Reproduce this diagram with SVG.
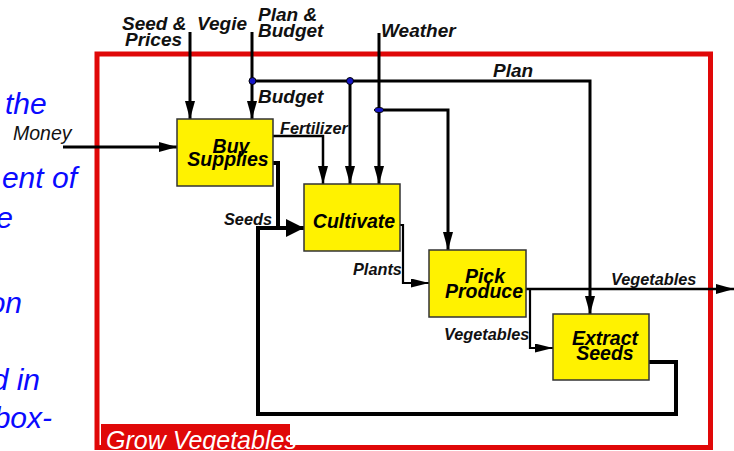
<svg xmlns="http://www.w3.org/2000/svg" width="734" height="451" viewBox="0 0 734 451">
<defs>
<style>
.box{fill:#fff200;stroke:#333;stroke-width:1.5}
.bt{font-family:"Liberation Sans",Arial,sans-serif;font-weight:bold;font-style:italic;font-size:19.5px;fill:#000;text-anchor:middle}
.lt{font-family:"Liberation Sans",Arial,sans-serif;font-weight:bold;font-style:italic;font-size:16.3px;fill:#111}
.tt{font-family:"Liberation Sans",Arial,sans-serif;font-weight:bold;font-style:italic;font-size:19px;fill:#111}
.bl{font-family:"Liberation Sans",Arial,sans-serif;font-style:italic;font-size:30px;fill:#0a0aff}
.ln{fill:none;stroke:#000;stroke-width:3;stroke-linejoin:miter}
.thin{stroke-width:2.2}
.thick{stroke-width:4}
.dot{fill:#1515c8;stroke:#000;stroke-width:1}
</style>
<marker id="ah" markerUnits="userSpaceOnUse" markerWidth="20" markerHeight="12" refX="18" refY="5" orient="auto">
<path d="M0,0 L18,5 L0,10 Z" fill="#000"/>
</marker>
<marker id="ahs" markerUnits="userSpaceOnUse" markerWidth="20" markerHeight="12" refX="18" refY="4.5" orient="auto">
<path d="M0,0 L18,4.5 L0,9 Z" fill="#000"/>
</marker>
<marker id="ahb" markerUnits="userSpaceOnUse" markerWidth="20" markerHeight="20" refX="18" refY="9" orient="auto">
<path d="M0,0 L18,9 L0,18 Z" fill="#000"/>
</marker>
</defs>
<rect width="734" height="451" fill="#fff"/>

<g id="slide-text">
<text class="bl" x="5" y="114">the</text>
<text class="bl" x="77" y="188" text-anchor="end">ent of</text>
<text class="bl" x="13" y="228" text-anchor="end">e</text>
<text class="bl" x="22" y="313" text-anchor="end">on</text>
<text class="bl" x="40" y="390" text-anchor="end">d in</text>
<text class="bl" x="52" y="428" text-anchor="end">box-</text>
</g>

<g id="frame">
<rect x="97" y="54" width="613.5" height="393.5" fill="none" stroke="#e00808" stroke-width="5"/>
<rect x="101" y="424" width="189" height="23" fill="#e00808"/>
</g>

<g id="connectors">
<path class="ln" d="M63,147 H177" marker-end="url(#ah)"/>
<path class="ln" d="M190,32 V119" marker-end="url(#ah)"/>
<path class="ln" d="M252,32 V119" marker-end="url(#ah)"/>
<path class="ln" d="M252,81 H590 V314" marker-end="url(#ah)"/>
<path class="ln" d="M350,81 V184" marker-end="url(#ah)"/>
<path class="ln" d="M379,33 V184" marker-end="url(#ah)"/>
<path class="ln" d="M379,110 H448 V250" marker-end="url(#ah)"/>
<path class="ln" style="stroke-width:2.5" d="M273,136 H323 V184" marker-end="url(#ah)"/>
<path class="ln thick" d="M273,163 H278 V228 H304" marker-end="url(#ahb)"/>
<path class="ln thick" d="M649,362 H676 V414 H258 V228 H290"/>
<path class="ln thin" d="M400,225 H403 V283 H429" marker-end="url(#ahs)"/>
<path class="ln" style="stroke-width:2.5" d="M526,289 H734" marker-end="url(#ah)"/>
<path class="ln thin" d="M526,289 H530 V348 H553" marker-end="url(#ahs)"/>
<circle class="dot" cx="252.5" cy="81" r="3.5"/>
<circle class="dot" cx="350" cy="81" r="3.5"/>
<ellipse class="dot" cx="379" cy="110" rx="4.5" ry="2.5"/>
</g>

<g id="labels">
<text class="tt" x="122" y="30">Seed &amp;</text>
<text class="tt" x="125" y="46">Prices</text>
<text class="tt" x="197" y="30">Vegie</text>
<text class="tt" x="258" y="21">Plan &amp;</text>
<text class="tt" x="258" y="37">Budget</text>
<text class="tt" x="381" y="37">Weather</text>
<text class="tt" x="493" y="77">Plan</text>
<text class="tt" x="258" y="103">Budget</text>
<text class="lt" x="280" y="134">Fertilizer</text>
<text class="lt" x="224" y="225">Seeds</text>
<text class="lt" x="353" y="275">Plants</text>
<text class="lt" x="611" y="285">Vegetables</text>
<text class="lt" x="444" y="340">Vegetables</text>
<text x="13" y="140" font-family="Liberation Sans, Arial, sans-serif" font-style="italic" font-size="19.5" fill="#111">Money</text>
</g>

<g id="buy-supplies">
<rect class="box" x="177" y="119" width="96" height="67"/>
<text class="bt" x="231" y="153">Buy</text>
<text class="bt" x="228" y="166">Supplies</text>
</g>
<g id="cultivate">
<rect class="box" x="304" y="184" width="96" height="67"/>
<text class="bt" x="354" y="228">Cultivate</text>
</g>
<g id="pick-produce">
<rect class="box" x="429" y="250" width="97" height="67"/>
<text class="bt" x="485" y="283">Pick</text>
<text class="bt" x="484" y="298">Produce</text>
</g>
<g id="extract-seeds">
<rect class="box" x="553" y="314" width="96" height="66"/>
<text class="bt" x="605" y="345">Extract</text>
<text class="bt" x="605" y="360">Seeds</text>
</g>

<g id="title">
<text x="106" y="449" font-family="Liberation Sans, Arial, sans-serif" font-style="italic" font-size="25" fill="#fff">Grow Vegetables</text>
</g>
</svg>
